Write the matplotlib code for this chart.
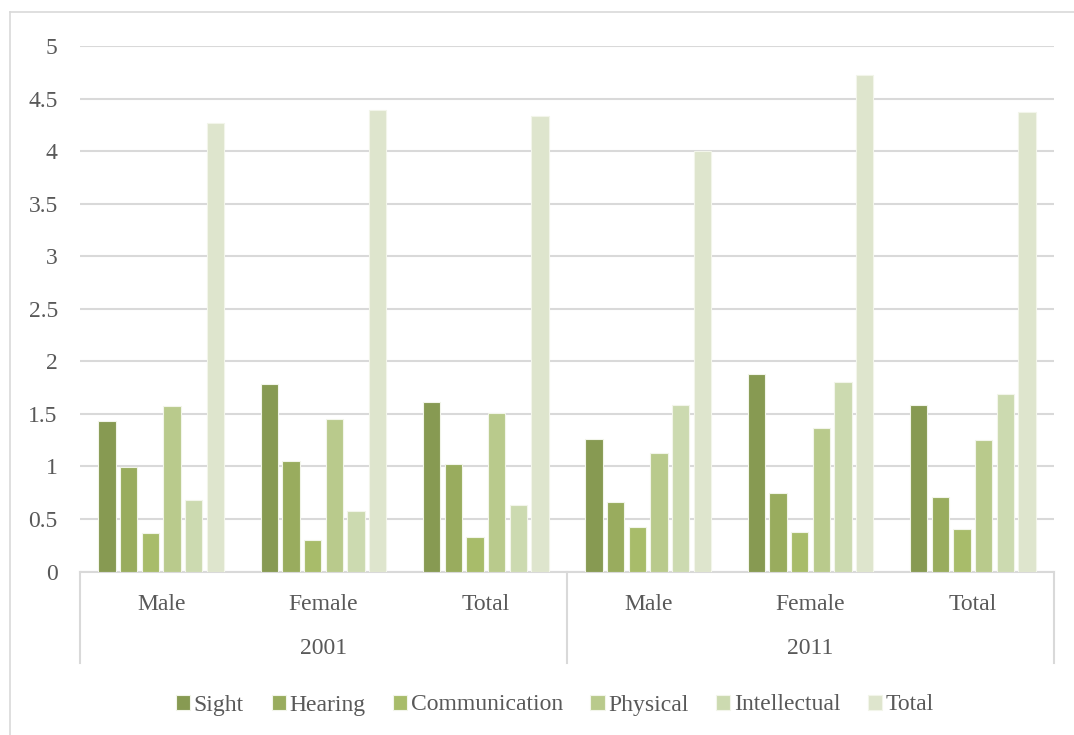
import matplotlib.pyplot as plt
import matplotlib.transforms as mtransforms
import numpy as np

years = ['2001', '2011']
groups = ['Male', 'Female', 'Total', 'Male', 'Female', 'Total']
series = ['Sight', 'Hearing', 'Communication', 'Physical', 'Intellectual', 'Total']

sight = [1.43, 1.78, 1.61, 1.26, 1.88, 1.58]
hearing = [0.99, 1.05, 1.02, 0.66, 0.75, 0.71]
communication = [0.37, 0.30, 0.33, 0.42, 0.38, 0.40]
physical = [1.57, 1.45, 1.51, 1.13, 1.37, 1.25]
intellectual = [0.68, 0.58, 0.63, 1.58, 1.80, 1.69]
total = [4.27, 4.39, 4.33, 4.00, 4.72, 4.37]

values = [sight, hearing, communication, physical, intellectual, total]
colors = ['#879a52', '#99ac5e', '#a8bc6a', '#b9ca8c', '#ccdab0', '#dee5cd']

plt.rcParams['font.family'] = ['Liberation Serif', 'DejaVu Serif']
text_color = '#595959'
grid_color = '#d9d9d9'

W, H = 1074, 735
fig = plt.figure(figsize=(W / 100, H / 100), dpi=100)

# outer frame (only top and left visible)
fig.add_artist(plt.Line2D([10 / W, 1.0], [1 - 12 / H, 1 - 12 / H], color=grid_color, lw=1.2))
fig.add_artist(plt.Line2D([10 / W, 10 / W], [0, 1 - 12 / H], color=grid_color, lw=1.2))

left, right = 80, 1054
top, base = 46, 571.5
ax = fig.add_axes([left / W, 1 - base / H, (right - left) / W, (base - top) / H])

x = np.arange(len(groups))
pitch = 0.1337
width = 0.1066
for i, (name, vals) in enumerate(zip(series, values)):
    ax.bar(x + (i - 2.5) * pitch, vals, width, color=colors[i], label=name,
           edgecolor='#f2f5ea', linewidth=0.8, zorder=3)

ax.set_xlim(-0.5, len(groups) - 0.5)
ax.set_ylim(0, 5)
ax.set_yticks(np.arange(0, 5.01, 0.5))
ax.set_yticklabels(['0', '0.5', '1', '1.5', '2', '2.5', '3', '3.5', '4', '4.5', '5'])
ax.tick_params(axis='y', length=0, labelsize=17, labelcolor=text_color, pad=16)
ax.set_xticks([])
ax.grid(axis='y', color=grid_color, lw=1.5, zorder=0)
for s in ['top', 'right', 'left']:
    ax.spines[s].set_visible(False)
ax.spines['bottom'].set_color(grid_color)
ax.spines['bottom'].set_linewidth(1.5)

# two-level category axis
trans = mtransforms.blended_transform_factory(ax.transData, ax.transAxes)
px = 1 / (base - top)
sep_bottom = -(663 - base) * px
for xs in [-0.5, 2.5, 5.5]:
    ax.plot([xs, xs], [0, sep_bottom], transform=trans, color=grid_color, lw=1.5,
            clip_on=False)
for xi, g in zip(x, groups):
    ax.text(xi, -(604 - base) * px, g, transform=trans, ha='center', va='center',
            fontsize=17, color=text_color)
for k, yr in enumerate(years):
    ax.text(3 * k + 1, -(649 - base) * px, yr, transform=trans, ha='center',
            va='center', fontsize=17, color=text_color)

leg = fig.legend(loc='center', bbox_to_anchor=(555 / W, 1 - 705 / H), ncol=6,
                 frameon=False, fontsize=17, handlelength=0.6, handleheight=0.6,
                 handletextpad=0.15, columnspacing=1.17)
for t in leg.get_texts():
    t.set_color(text_color)

fig.savefig('out.png', dpi=100)
